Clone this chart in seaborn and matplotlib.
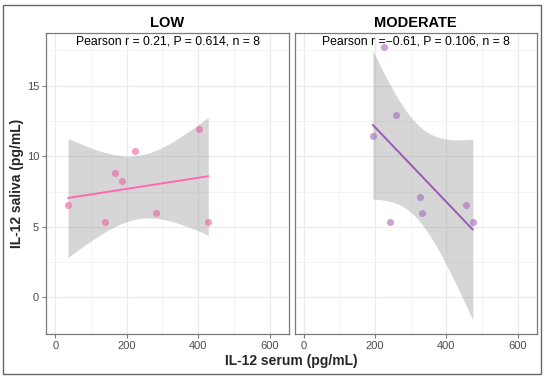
import numpy as np
import pandas as pd
import matplotlib
matplotlib.use("Agg")
import matplotlib.pyplot as plt
import matplotlib.patches as mpatches
import seaborn as sns

# ---- data ----
panels = ["LOW", "MODERATE"]
low_serum = [35.6, 140.2, 167.4, 187.0, 222.3, 283.2, 401.7, 428.0]
low_saliva = [6.55, 5.32, 8.82, 8.25, 10.40, 5.96, 11.94, 5.32]
mod_serum = [193.7, 224.5, 241.3, 260.0, 326.0, 332.7, 455.7, 474.0]
mod_saliva = [11.44, 17.73, 5.32, 12.95, 7.13, 5.96, 6.55, 5.32]
stat_labels = ["Pearson r = 0.21, P = 0.614, n = 8",
               "Pearson r =\u22120.61, P = 0.106, n = 8"]
x_ticks = [0, 200, 400, 600]
y_ticks = [0, 5, 10, 15]
point_colors = ["#E8609F", "#A569BD"]
line_colors = ["#FF69B4", "#9B59B6"]

sns.set_theme(style="white")
plt.rcParams["font.family"] = ["Liberation Sans", "DejaVu Sans"]

fig = plt.figure(figsize=(5.5, 3.79), dpi=100)
W, H = 550.0, 379.0

# outer frame
fig.patches.append(mpatches.Rectangle((3 / W, (H - 374) / H), 538 / W, 369 / H,
                                      transform=fig.transFigure, fill=False,
                                      edgecolor="#666666", linewidth=1.0))

ax_boxes = [(46, 289), (294.5, 537)]
top_px, bot_px = 33, 334
axes = []
T975 = 2.446912  # t quantile, df = 6
for i, (x0, x1) in enumerate(ax_boxes):
    ax = fig.add_axes([x0 / W, (H - bot_px) / H, (x1 - x0) / W, (bot_px - top_px) / H])
    axes.append(ax)

datasets = [(low_serum, low_saliva), (mod_serum, mod_saliva)]
for i, ax in enumerate(axes):
    xs, ys = datasets[i]
    df = pd.DataFrame({"serum": xs, "saliva": ys})
    ax.set_xlim(-26, 654)
    ax.set_ylim(-2.6, 18.74)
    # grid
    ax.set_xticks(x_ticks)
    ax.set_yticks(y_ticks)
    ax.set_xticks([100, 300, 500], minor=True)
    ax.set_yticks([2.5, 7.5, 12.5, 17.5], minor=True)
    ax.grid(True, which="major", color="#EBEBEB", linewidth=0.9, zorder=0)
    ax.grid(True, which="minor", color="#F2F2F2", linewidth=0.6, zorder=0)
    ax.set_axisbelow(True)
    # confidence band (analytic, like ggplot's geom_smooth)
    xa = np.asarray(xs, float); ya = np.asarray(ys, float)
    n = len(xa)
    b, a = np.polyfit(xa, ya, 1)
    resid = ya - (a + b * xa)
    s = np.sqrt(np.sum(resid ** 2) / (n - 2))
    xg = np.linspace(xa.min(), xa.max(), 80)
    se = s * np.sqrt(1 / n + (xg - xa.mean()) ** 2 / np.sum((xa - xa.mean()) ** 2))
    yg = a + b * xg
    ax.fill_between(xg, yg - T975 * se, yg + T975 * se, color="#999999",
                    alpha=0.4, linewidth=0, zorder=1)
    sns.regplot(data=df, x="serum", y="saliva", ax=ax, ci=None,
                scatter_kws=dict(s=26, color=point_colors[i], alpha=0.6,
                                 linewidths=0, zorder=2),
                line_kws=dict(color=line_colors[i], linewidth=1.4, zorder=3))
    ax.set_xlabel("")
    ax.set_ylabel("")
    for sp in ax.spines.values():
        sp.set_visible(True)
        sp.set_color("#7A7A7A")
        sp.set_linewidth(0.9)
    ax.tick_params(axis="x", which="major", length=3, width=0.8, color="#7A7A7A",
                   labelsize=8, labelcolor="#4D4D4D", pad=2, bottom=True)
    ax.tick_params(which="minor", length=0)
    if i == 0:
        ax.tick_params(axis="y", which="major", length=3, width=0.8, color="#7A7A7A",
                       labelsize=8, labelcolor="#4D4D4D", pad=2, left=True)
    else:
        ax.tick_params(axis="y", which="major", length=0, labelleft=False)
    ax.text(0.5, 0.973, stat_labels[i], transform=ax.transAxes, ha="center",
            va="center", fontsize=8.8, color="black", zorder=5)
    ax.text(0.5, 1.034, panels[i], transform=ax.transAxes, ha="center",
            va="center", fontsize=10.5, fontweight="bold", color="black")

fig.text(291 / W, 1 - 361 / H, "IL-12 serum (pg/mL)", ha="center", va="center",
         fontsize=10, fontweight="bold")
fig.text(17 / W, 1 - 183 / H, "IL-12 saliva (pg/mL)", ha="center", va="center",
         rotation=90, fontsize=10, fontweight="bold")

fig.savefig("out.png", dpi=100)
